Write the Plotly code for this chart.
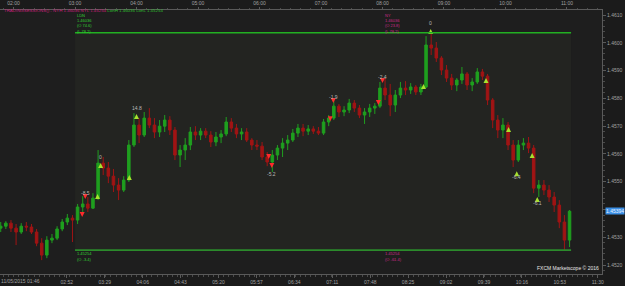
import pandas as pd
import plotly.graph_objects as go

# ---------------- data ----------------
candle_start = "2015-11-05 01:45"
candle_minutes = 5

open_ = [1.45333, 1.45340, 1.45351, 1.45333, 1.45319, 1.45340, 1.45337, 1.45319, 1.45279, 1.45236,
         1.45290, 1.45297, 1.45330, 1.45355, 1.45369, 1.45362, 1.45409, 1.45420, 1.45405, 1.45441,
         1.45567, 1.45549, 1.45520, 1.45488, 1.45470, 1.45506, 1.45632, 1.45704, 1.45668, 1.45729,
         1.45704, 1.45679, 1.45700, 1.45722, 1.45686, 1.45596, 1.45614, 1.45632, 1.45679, 1.45668,
         1.45682, 1.45668, 1.45643, 1.45661, 1.45672, 1.45715, 1.45693, 1.45672, 1.45679, 1.45650,
         1.45632, 1.45628, 1.45589, 1.45571, 1.45596, 1.45621, 1.45639, 1.45650, 1.45675, 1.45693,
         1.45682, 1.45690, 1.45682, 1.45675, 1.45715, 1.45729, 1.45772, 1.45751, 1.45758, 1.45783,
         1.45765, 1.45740, 1.45751, 1.45765, 1.45772, 1.45837, 1.45812, 1.45776, 1.45812, 1.45837,
         1.45830, 1.45841, 1.45823, 1.45841, 1.45992, 1.45981, 1.45945, 1.45902, 1.45873, 1.45848,
         1.45866, 1.45888, 1.45848, 1.45859, 1.45895, 1.45880, 1.45794, 1.45722, 1.45686, 1.45704,
         1.45632, 1.45578, 1.45632, 1.45639, 1.45621, 1.45477, 1.45488, 1.45470, 1.45445, 1.45416,
         1.45355, 1.45290]
high = [1.45355, 1.45358, 1.45362, 1.45348, 1.45351, 1.45355, 1.45348, 1.45330, 1.45297, 1.45304,
        1.45312, 1.45340, 1.45366, 1.45384, 1.45380, 1.45420, 1.45448, 1.45445, 1.45459, 1.45614,
        1.45589, 1.45571, 1.45546, 1.45513, 1.45520, 1.45650, 1.45747, 1.45729, 1.45751, 1.45765,
        1.45729, 1.45722, 1.45740, 1.45736, 1.45697, 1.45632, 1.45657, 1.45697, 1.45700, 1.45693,
        1.45693, 1.45682, 1.45679, 1.45686, 1.45733, 1.45729, 1.45708, 1.45693, 1.45693, 1.45657,
        1.45650, 1.45643, 1.45607, 1.45614, 1.45632, 1.45657, 1.45668, 1.45690, 1.45708, 1.45708,
        1.45704, 1.45700, 1.45697, 1.45726, 1.45740, 1.45790, 1.45780, 1.45772, 1.45798, 1.45794,
        1.45776, 1.45765, 1.45780, 1.45783, 1.45859, 1.45873, 1.45852, 1.45830, 1.45859, 1.45862,
        1.45855, 1.45848, 1.45852, 1.46024, 1.46036, 1.46003, 1.45952, 1.45920, 1.45888, 1.45873,
        1.45913, 1.45895, 1.45873, 1.45909, 1.45906, 1.45888, 1.45801, 1.45740, 1.45729, 1.45715,
        1.45650, 1.45650, 1.45657, 1.45661, 1.45632, 1.45506, 1.45506, 1.45488, 1.45463, 1.45434,
        1.45380, 1.45398]
low = [1.45319, 1.45330, 1.45319, 1.45272, 1.45312, 1.45322, 1.45312, 1.45268, 1.45218, 1.45225,
       1.45279, 1.45290, 1.45322, 1.45344, 1.45283, 1.45348, 1.45391, 1.45391, 1.45402, 1.45434,
       1.45524, 1.45495, 1.45463, 1.45434, 1.45463, 1.45499, 1.45625, 1.45639, 1.45661, 1.45693,
       1.45657, 1.45661, 1.45679, 1.45668, 1.45578, 1.45553, 1.45578, 1.45614, 1.45650, 1.45650,
       1.45657, 1.45625, 1.45628, 1.45639, 1.45664, 1.45679, 1.45657, 1.45650, 1.45643, 1.45614,
       1.45614, 1.45578, 1.45556, 1.45535, 1.45578, 1.45589, 1.45614, 1.45643, 1.45661, 1.45664,
       1.45668, 1.45672, 1.45668, 1.45668, 1.45700, 1.45722, 1.45733, 1.45736, 1.45747, 1.45751,
       1.45729, 1.45708, 1.45733, 1.45744, 1.45765, 1.45794, 1.45736, 1.45751, 1.45801, 1.45812,
       1.45816, 1.45812, 1.45812, 1.45837, 1.45956, 1.45931, 1.45884, 1.45859, 1.45830, 1.45826,
       1.45852, 1.45830, 1.45826, 1.45852, 1.45866, 1.45776, 1.45693, 1.45657, 1.45657, 1.45614,
       1.45553, 1.45571, 1.45614, 1.45603, 1.45459, 1.45445, 1.45452, 1.45427, 1.45391, 1.45333,
       1.45254, 1.45265]
close = [1.45340, 1.45351, 1.45333, 1.45319, 1.45340, 1.45337, 1.45319, 1.45279, 1.45236, 1.45290,
         1.45297, 1.45330, 1.45355, 1.45369, 1.45362, 1.45409, 1.45420, 1.45405, 1.45441, 1.45567,
         1.45549, 1.45520, 1.45488, 1.45470, 1.45506, 1.45632, 1.45704, 1.45668, 1.45729, 1.45704,
         1.45679, 1.45700, 1.45722, 1.45686, 1.45596, 1.45614, 1.45632, 1.45679, 1.45668, 1.45682,
         1.45668, 1.45643, 1.45661, 1.45672, 1.45715, 1.45693, 1.45672, 1.45679, 1.45650, 1.45632,
         1.45628, 1.45589, 1.45571, 1.45596, 1.45621, 1.45639, 1.45650, 1.45675, 1.45693, 1.45682,
         1.45690, 1.45682, 1.45675, 1.45715, 1.45729, 1.45772, 1.45751, 1.45758, 1.45783, 1.45765,
         1.45740, 1.45751, 1.45765, 1.45772, 1.45837, 1.45812, 1.45776, 1.45812, 1.45837, 1.45830,
         1.45841, 1.45823, 1.45841, 1.45992, 1.45981, 1.45945, 1.45902, 1.45873, 1.45848, 1.45866,
         1.45888, 1.45848, 1.45859, 1.45895, 1.45880, 1.45794, 1.45722, 1.45686, 1.45704, 1.45632,
         1.45578, 1.45632, 1.45639, 1.45621, 1.45477, 1.45488, 1.45470, 1.45445, 1.45416, 1.45355,
         1.45290, 1.45394]

session_start = "2015-11-05 03:00"
session_end = "2015-11-05 11:04"
ny_start = "2015-11-05 08:00"
session_high = 1.46036
session_low = 1.45254
ldn_labels_top = ["LDN", "1.46036", "(O 74.6)", "(L 78.2)"]
ldn_labels_bottom = ["1.45254", "(O -3.4)"]
ny_labels_top = ["NY", "1.46036", "(O 23.8)", "(L 78.2)"]
ny_labels_bottom = ["1.45254", "(O -61.4)"]

marker_times = ["03:07", "03:10", "03:22", "03:25", "03:53", "04:00", "06:09", "06:12", "07:09", "07:12",
                "07:56", "08:00", "08:40", "08:47", "09:41", "10:03", "10:11", "10:26", "10:31"]
marker_prices = [1.45373, 1.45438, 1.45456, 1.45567, 1.45524, 1.45744, 1.45582, 1.45549, 1.45718, 1.45783,
                 1.45776, 1.45855, 1.45852, 1.46050, 1.45873, 1.45697, 1.45538, 1.45603, 1.45445]
marker_kinds = ["down", "down", "up", "up", "up", "up", "down", "down", "down", "down",
                "down", "down", "up", "up", "up", "up", "up", "up", "up"]
marker_labels = ["", "-8.5", "", "0", "", "14.8", "", "-5.2", "", "-1.9",
                 "", "-2.4", "", "0", "", "", "-6.4", "", "-6.1"]
marker_label_side = ["top", "top", "top", "top", "top", "top", "top", "bottom", "top", "top",
                     "top", "top", "top", "top", "top", "top", "bottom", "top", "bottom"]

price_ticks = [1.4520, 1.4530, 1.4540, 1.4550, 1.4560, 1.4570, 1.4580, 1.4590, 1.4600, 1.4610]
top_hours = ["02:00", "03:00", "04:00", "05:00", "06:00", "07:00", "08:00", "09:00", "10:00", "11:00"]
bottom_ticks = ["02:52", "03:29", "04:06", "04:43", "05:20", "05:57", "06:34", "07:11", "07:48",
                "08:25", "09:02", "09:39", "10:16", "10:53", "11:30"]
first_date_label = "11/05/2015 01:46"
header_ny = "TRADINGSESSIONS() - NYH 1.46036 NYL 1.45254"
header_ldn = "LonH 1.46036 LonL 1.45254"
copyright_text = "FXCM Marketscope \u00a9 2016"

# ---------------- figure ----------------
day = "2015-11-05 "
FONT = "Liberation Sans"
W, H = 625, 286
M_L, M_R, M_T, M_B = 0, 23, 10, 12
plot_h = H - M_T - M_B
y_top = 1.46118
y_bot = 1.45168
px = (y_top - y_bot) / plot_h  # price per pixel

times = pd.date_range(candle_start, periods=len(close), freq=f"{candle_minutes}min") + pd.Timedelta(minutes=candle_minutes / 2)
x_left = pd.Timestamp(day + "01:46:48")
x_right = pd.Timestamp(day + "11:34:10")

GREEN = "#1f9f1f"
RED = "#a01414"

fig = go.Figure()

# session box
fig.add_shape(type="rect", xref="x", yref="y", x0=session_start, x1=session_end,
              y0=session_low, y1=session_high, fillcolor="rgba(70,80,55,0.13)",
              line=dict(width=0), layer="below")
fig.add_shape(type="line", xref="x", yref="y", x0=session_start, x1=session_end,
              y0=session_high, y1=session_high, line=dict(color="#22b022", width=1.5))
fig.add_shape(type="line", xref="x", yref="y", x0=session_start, x1=session_end,
              y0=session_low, y1=session_low, line=dict(color="#2b8a2b", width=1.8))

fig.add_trace(go.Candlestick(
    x=times, open=open_, high=high, low=low, close=close,
    increasing=dict(line=dict(color=GREEN, width=1), fillcolor=GREEN),
    decreasing=dict(line=dict(color=RED, width=1), fillcolor=RED),
    whiskerwidth=0, showlegend=False, hoverinfo="skip"))

# signal markers
mt = [pd.Timestamp(day + t) for t in marker_times]
for kind, sym, col in [("up", "arrow-up", "#a6e22e"), ("down", "arrow-down", "#ff2b2b")]:
    idx = [i for i, k in enumerate(marker_kinds) if k == kind]
    fig.add_trace(go.Scatter(
        x=[mt[i] for i in idx], y=[marker_prices[i] for i in idx], mode="markers",
        marker=dict(symbol=sym, size=5, color=col, line=dict(width=0)),
        showlegend=False, hoverinfo="skip"))
for i, lab in enumerate(marker_labels):
    if lab:
        fig.add_annotation(x=mt[i], y=marker_prices[i], xref="x", yref="y", text=lab,
                           showarrow=False, borderpad=0,
                           font=dict(family=FONT, size=5, color="#b8b8b8"),
                           yshift=6 if marker_label_side[i] == "top" else -6,
                           yanchor="middle")

# top axis hour markers
hour_x = [pd.Timestamp(day + h) for h in top_hours]
fig.add_trace(go.Scatter(
    x=hour_x, y=[y_top + 3 * px] * len(hour_x), xaxis="x2", yaxis="y", mode="markers",
    marker=dict(symbol="triangle-down", size=5, color="#e0a400"), cliponaxis=False,
    showlegend=False, hoverinfo="skip"))

# session labels
def stack(xval, base, labels, shifts, color):
    for lab, s in zip(labels, shifts):
        fig.add_annotation(x=xval, y=base, xref="x", yref="y", text=lab, showarrow=False,
                           xanchor="left", yanchor="middle", yshift=s, xshift=1, borderpad=0,
                           font=dict(family=FONT, size=4, color=color))

stack(session_start, session_high, ldn_labels_top, [17.5, 12.2, 6.9, 1.6], "#33cc33")
stack(session_start, session_low, ldn_labels_bottom, [-3.5, -9], "#33cc33")
stack(ny_start, session_high, ny_labels_top, [17.5, 12.2, 6.9, 1.6], "#cc2a88")
stack(ny_start, session_low, ny_labels_bottom, [-3.5, -9], "#cc2a88")

# header line
fig.add_annotation(xref="paper", yref="paper", x=0, y=1, xanchor="left", yanchor="middle",
                   yshift=0, xshift=3, showarrow=False, borderpad=0,
                   text=f"<span style='color:#c8207a'>{header_ny}</span> "
                        f"<span style='color:#2fbf2f'>{header_ldn}</span>",
                   font=dict(family=FONT, size=4.4))

# current price label
fig.add_annotation(xref="paper", yref="y", x=1, y=close[-1], xanchor="left", yanchor="middle",
                   xshift=3, showarrow=False, text=f"{close[-1]:.5f}",
                   bgcolor="#3b8fe6", borderpad=0,
                   font=dict(family=FONT, size=5, color="#eaf4ff"))

# copyright
fig.add_annotation(xref="paper", yref="paper", x=1, y=0, xanchor="right", yanchor="bottom",
                   xshift=-2, yshift=2, showarrow=False, text=copyright_text, borderpad=0,
                   font=dict(family=FONT, size=5, color="#e8e8e8"))

# first date label
fig.add_annotation(xref="paper", yref="paper", x=0, y=0, xanchor="left", yanchor="middle",
                   yshift=-7, showarrow=False, text=first_date_label, borderpad=0,
                   font=dict(family=FONT, size=5, color="#a0a0a0"))

# tick label hidden behind the current-price box
price_ticktext = [("" if abs(v - close[-1]) < 0.0003 else f"{v:.4f}") for v in price_ticks]

axis_font = dict(family=FONT, size=5, color="#a0a0a0")
fig.update_layout(
    width=W, height=H, margin=dict(l=M_L, r=M_R, t=M_T, b=M_B),
    paper_bgcolor="#1b1b1b", plot_bgcolor="#1e1e1e", showlegend=False,
    xaxis=dict(type="date", range=[x_left, x_right], rangeslider=dict(visible=False),
               tickvals=[pd.Timestamp(day + t) for t in bottom_ticks], ticktext=bottom_ticks,
               showgrid=False, zeroline=False, showline=True, linecolor="#5a5a5a", linewidth=1,
               ticks="outside", ticklen=3, tickcolor="#5a5a5a", tickfont=axis_font,
               minor=dict(ticks="outside", ticklen=2, tickcolor="#4a4a4a", dtick=5 * 60 * 1000)),
    xaxis2=dict(type="date", overlaying="x", matches="x", side="top",
                tickvals=hour_x, ticktext=top_hours, showgrid=False, zeroline=False,
                showline=True, linecolor="#5a5a5a", ticks="outside", ticklen=2,
                tickcolor="#5a5a5a", tickfont=axis_font,
                minor=dict(ticks="outside", ticklen=1, tickcolor="#4a4a4a", dtick=10 * 60 * 1000)),
    yaxis=dict(side="right", range=[y_bot, y_top], tickvals=price_ticks,
               ticktext=price_ticktext, showgrid=False, zeroline=False,
               showline=True, linecolor="#5a5a5a", ticks="outside", ticklen=3,
               tickcolor="#5a5a5a", tickfont=axis_font,
               minor=dict(ticks="outside", ticklen=2, tickcolor="#4a4a4a", dtick=0.0002)),
)

fig.write_html("out.html")
